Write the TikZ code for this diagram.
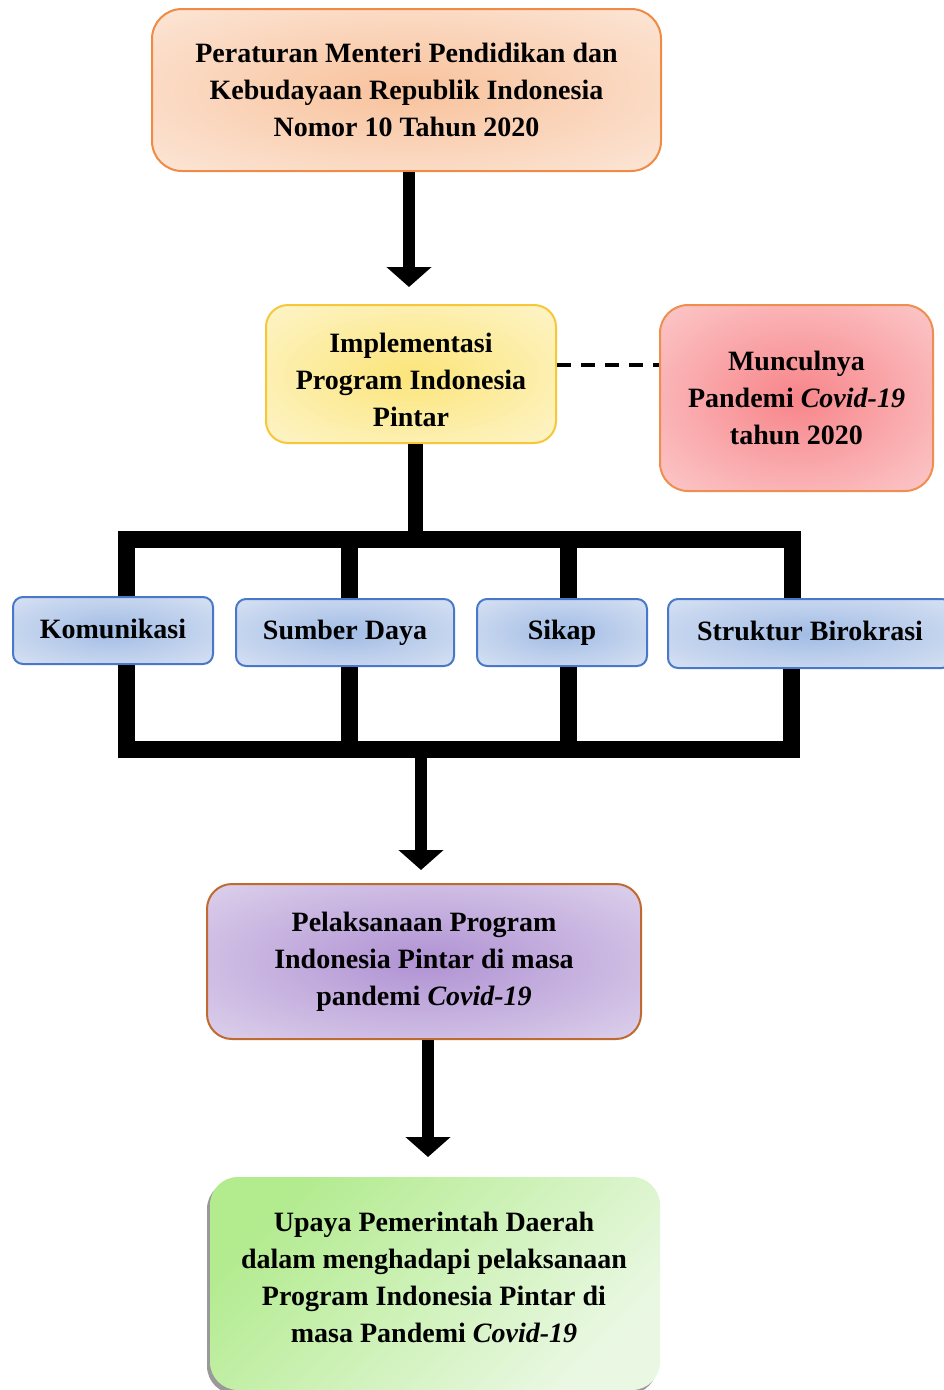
\documentclass[tikz,border=0pt]{standalone}
\usepackage{fontspec}
\setmainfont{Liberation Serif}
\usetikzlibrary{arrows.meta,shadows}
\definecolor{orIn}{HTML}{F8C29C}
\definecolor{orOut}{HTML}{FDEEE4}
\definecolor{orLine}{HTML}{F08B45}
\definecolor{yeIn}{HTML}{FBE57A}
\definecolor{yeOut}{HTML}{FEF8DC}
\definecolor{yeLine}{HTML}{F7C73A}
\definecolor{reIn}{HTML}{F7858A}
\definecolor{reOut}{HTML}{FDD8D8}
\definecolor{reLine}{HTML}{EE8E4F}
\definecolor{blIn}{HTML}{A2BCE5}
\definecolor{blOut}{HTML}{E3EAF6}
\definecolor{blLine}{HTML}{4A78C8}
\definecolor{puIn}{HTML}{B092D3}
\definecolor{puOut}{HTML}{E7DFF1}
\definecolor{puLine}{HTML}{C06A30}
\definecolor{grA}{HTML}{B3EB8F}
\definecolor{grB}{HTML}{EAF8E3}
\pgfdeclareradialshading{shOr}{\pgfpoint{0bp}{0bp}}{color(0bp)=(orIn); color(44bp)=(orOut); color(50bp)=(orOut)}
\pgfdeclareradialshading{shYe}{\pgfpoint{0bp}{0bp}}{color(0bp)=(yeIn); color(44bp)=(yeOut); color(50bp)=(yeOut)}
\pgfdeclareradialshading{shRe}{\pgfpoint{0bp}{0bp}}{color(0bp)=(reIn); color(44bp)=(reOut); color(50bp)=(reOut)}
\pgfdeclareradialshading{shBl}{\pgfpoint{0bp}{0bp}}{color(0bp)=(blIn); color(44bp)=(blOut); color(50bp)=(blOut)}
\pgfdeclareradialshading{shPu}{\pgfpoint{0bp}{0bp}}{color(0bp)=(puIn); color(44bp)=(puOut); color(50bp)=(puOut)}
\tikzset{
  box/.style={rectangle, line width=2pt, align=center, inner sep=0pt,
    font=\fontsize{28}{37}\selectfont\bfseries},
  txt/.style={align=center, inner sep=0pt, font=\fontsize{28}{37}\selectfont\bfseries},
  bigarrow/.style={line width=12pt, -{Triangle[width=44pt,length=20pt]}},
  treeline/.style={line width=17pt, line join=miter, line cap=butt},
  dashline/.style={line width=4pt, dash pattern=on 14pt off 10pt},
}
\begin{document}
\begin{tikzpicture}[x=1pt,y=-1pt]
\useasboundingbox (0,0) rectangle (944,1390);
\fill[white] (0,0) rectangle (944,1390);
% main boxes
\node[box, draw=orLine, shading=shOr, rounded corners=30pt, minimum width=509pt, minimum height=162pt]
  (b1) at (406.5,90) {Peraturan Menteri Pendidikan dan\\Kebudayaan Republik Indonesia\\Nomor 10 Tahun 2020};
\node[box, draw=yeLine, shading=shYe, rounded corners=22pt, minimum width=290pt, minimum height=138pt]
  (b2) at (411,374) {};
\node[txt] (b2t) at (411,380) {Implementasi\\Program Indonesia\\Pintar};
\node[box, draw=reLine, shading=shRe, rounded corners=28pt, minimum width=273pt, minimum height=186pt]
  (b3) at (796.5,398) {Munculnya\\Pandemi \textit{Covid-19}\\tahun 2020};
% blue boxes
\node[box, draw=blLine, shading=shBl, rounded corners=10pt, minimum width=200pt, minimum height=67pt]
  (k1) at (113,630.5) {};
\node[txt] (k1t) at (113,628.5) {Komunikasi};
\node[box, draw=blLine, shading=shBl, rounded corners=10pt, minimum width=218pt, minimum height=67pt]
  (k2) at (345,632.5) {Sumber Daya};
\node[box, draw=blLine, shading=shBl, rounded corners=10pt, minimum width=170pt, minimum height=67pt]
  (k3) at (562,632.5) {Sikap};
\node[box, draw=blLine, shading=shBl, rounded corners=10pt, minimum width=284pt, minimum height=69pt]
  (k4) at (810,633.5) {};
\node[txt] (k4t) at (810,631) {Struktur Birokrasi};
% purple and green
\node[box, draw=puLine, shading=shPu, rounded corners=25pt, minimum width=434pt, minimum height=155pt]
  (b4) at (424,961.5) {Pelaksanaan Program\\Indonesia Pintar di masa\\pandemi \textit{Covid-19}};
\node[box, top color=grA, bottom color=grB, shading angle=45, rounded corners=28pt,
  minimum width=450pt, minimum height=213pt,
  drop shadow={shadow xshift=-3pt, shadow yshift=-4pt, fill=black, opacity=0.4}]
  (b5) at (435,1283.5) {};
\node[txt] (b5t) at (434,1277) {Upaya Pemerintah Daerah\\dalam menghadapi pelaksanaan\\Program Indonesia Pintar di\\masa Pandemi \textit{Covid-19}};
% coordinates
\coordinate (a1) at (409,287);
\coordinate (dy) at (0,365);
\coordinate (stem) at (415.5,539);
\coordinate (tl) at (126.5,539);
\coordinate (tr) at (792.5,539);
\coordinate (t2) at (349.5,539);
\coordinate (t3) at (568.5,539);
\coordinate (bl) at (126.5,749);
\coordinate (br) at (791,749);
\coordinate (u2) at (349.5,749);
\coordinate (u3) at (568.5,749);
\coordinate (a2s) at (421,749);
\coordinate (a2) at (421,870);
\coordinate (a3) at (428,1157);
% connectors
\draw[bigarrow] (b1.south -| a1) -- (a1);
\draw[dashline] (b2.east |- dy) -- (b3.west |- dy);
\draw[line width=15pt] (b2.south -| stem) -- (stem);
\draw[treeline] (k1.north -| tl) -- (tl) -- (tr) -- (k4.north -| tr);
\draw[line width=17pt] (t2) -- (k2.north -| t2);
\draw[line width=17pt] (t3) -- (k3.north -| t3);
\draw[treeline] (k1.south -| bl) -- (bl) -- (br) -- (k4.south -| br);
\draw[line width=17pt] (k2.south -| u2) -- (u2);
\draw[line width=17pt] (k3.south -| u3) -- (u3);
\draw[bigarrow] (a2s) -- (a2);
\draw[bigarrow] (b4.south -| a3) -- (a3);
\end{tikzpicture}
\end{document}
